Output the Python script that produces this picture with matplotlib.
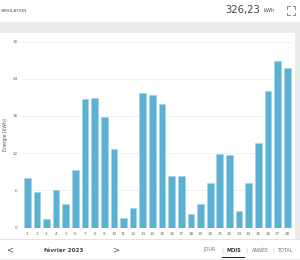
import matplotlib
matplotlib.use("Agg")
import matplotlib.pyplot as plt
from matplotlib.patches import Rectangle
from matplotlib.lines import Line2D
import numpy as np

days = list(range(1, 29))
energy = [7.96, 5.76, 1.40, 6.00, 3.82, 9.26, 20.80, 20.86, 17.79, 12.65,
          1.56, 3.23, 21.72, 21.34, 19.94, 8.29, 8.34, 2.15, 3.82, 7.21,
          11.84, 11.73, 2.74, 7.21, 13.60, 21.99, 26.88, 25.80]
yticks = [0, 6, 12, 18, 24, 30]
total = "326,23"
month = "février 2023"
modes = ["JOUR", "MOIS", "ANNÉE", "TOTAL"]

W, H = 300, 260


def fx(x):
    return x / W


def fy(y):
    return 1 - y / H


fig = plt.figure(figsize=(3, 2.6), dpi=100)
fig.patch.set_facecolor("white")

# grey bands around the card
fig.patches.append(Rectangle((0, fy(33)), 1, 11 / H, transform=fig.transFigure,
                             facecolor="#ebeceb", edgecolor="none", zorder=0))
fig.patches.append(Rectangle((fx(295), fy(239)), 5 / W, 206 / H,
                             transform=fig.transFigure, facecolor="#ebeceb",
                             edgecolor="none", zorder=0))
fig.patches.append(Rectangle((0, fy(240)), 1, 1.2 / H, transform=fig.transFigure,
                             facecolor="#e3e3e3", edgecolor="none", zorder=0))
fig.patches.append(Rectangle((0, 0), 1, 1.5 / H, transform=fig.transFigure,
                             facecolor="#ebeceb", edgecolor="none", zorder=0))

ax = fig.add_axes([fx(22), fy(227.7), 270 / W, 186.2 / H])
ax.bar(days, energy, width=0.69, color="#5bb1d3", edgecolor="#a3d4e7",
       linewidth=0.5, zorder=2)
ax.set_xlim(0.45, 28.5)
ax.set_ylim(0, 30)
ax.set_yticks(yticks)
ax.set_xticks(days)
ax.tick_params(axis="both", length=0, labelsize=3, colors="#666666", pad=3)
ax.grid(axis="y", color="#eeeeee", linewidth=0.6, zorder=0)
for s in ax.spines.values():
    s.set_visible(False)
ax.set_ylabel("Énergie [kWh]", fontsize=3.3, color="#555555", labelpad=3)

# header
fig.text(fx(1), fy(10.5), "SIMULATION", fontsize=3.2, color="#555555",
         va="center", ha="left")
fig.text(fx(260), fy(10), total, fontsize=7.2, color="#444444",
         va="center", ha="right")
fig.text(fx(263), fy(11), "kWh", fontsize=3.6, color="#444444",
         va="center", ha="left")

# expand icon: four corner brackets
x0, x1, y0, y1, c = 287, 295, 6, 15, 2.5
for (xa, ya, dx, dy) in [(x0, y0, 1, 1), (x1, y0, -1, 1), (x0, y1, 1, -1), (x1, y1, -1, -1)]:
    fig.lines.append(Line2D([fx(xa + dx * c), fx(xa), fx(xa)],
                            [fy(ya), fy(ya), fy(ya + dy * c)],
                            transform=fig.transFigure, color="#777777", linewidth=0.6))

# bottom navigation
fig.text(fx(10), fy(250), "<", fontsize=6, color="#555555",
         va="center", ha="center")
fig.text(fx(63.5), fy(250), month, fontsize=4.1, color="#444444",
         fontweight="bold", va="center", ha="center")
fig.text(fx(116), fy(250), ">", fontsize=6, color="#555555",
         va="center", ha="center")
xs = [209, 234, 261, 285]
for x, m in zip(xs, modes):
    fig.text(fx(x), fy(250), m, fontsize=3.6,
             color="#333333" if m == "MOIS" else "#777777",
             fontweight="bold" if m == "MOIS" else "normal",
             va="center", ha="center")
for x in [222, 246, 273]:
    fig.text(fx(x), fy(250), "|", fontsize=4, color="#bbbbbb",
             va="center", ha="center")
fig.patches.append(Rectangle((fx(222), fy(258)), 23 / W, 1.3 / H,
                             transform=fig.transFigure, facecolor="#222222",
                             edgecolor="none"))

fig.savefig("out.png", dpi=100)
